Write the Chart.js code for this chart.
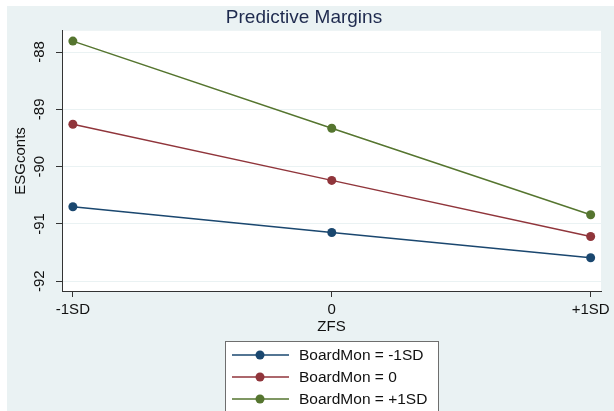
<!DOCTYPE html>
<html>
<head>
<meta charset="utf-8">
<script src="https://cdn.jsdelivr.net/npm/chart.js@4"></script>
<style>
  html, body { margin: 0; padding: 0; background: #fff; }
  #chart { display: block; }
</style>
</head>
<body>
<canvas id="chart" width="614" height="411"></canvas>
<script>
// values
const categories = ['-1SD', '0', '+1SD'];
const seriesLabels = ['BoardMon = -1SD', 'BoardMon = 0', 'BoardMon = +1SD'];
const lowBoard = [-90.70, -91.15, -91.59];
const midBoard = [-89.26, -90.24, -91.22];
const highBoard = [-87.81, -89.33, -90.84];
const yTicks = [-92, -91, -90, -89, -88];

const colors = ['#1a476f', '#90353b', '#55752f'];
const bgColor = '#eaf2f3';
const font = 'Arial, "Liberation Sans", sans-serif';

function toPoints(values) {
    return categories.map((c, i) => ({ x: i, y: values[i] }));
}

// outer stata-like background + white plot region
const backdrop = {
    id: 'backdrop',
    beforeDraw(chart) {
        const ctx = chart.ctx;
        const a = chart.chartArea;
        ctx.save();
        ctx.fillStyle = '#fff';
        ctx.fillRect(0, 0, chart.width, chart.height);
        ctx.fillStyle = bgColor;
        ctx.fillRect(7, 6, chart.width - 7, chart.height - 6);
        ctx.fillStyle = '#fff';
        ctx.fillRect(a.left, a.top, a.right - a.left, a.bottom - a.top);
        ctx.restore();
    }
};

// boxed legend under the axis title, one row per series
const boxLegend = {
    id: 'boxLegend',
    afterDraw(chart) {
        const ctx = chart.ctx;
        const left = 225, top = 341, w = 213;
        ctx.save();
        ctx.fillStyle = '#fff';
        ctx.fillRect(left, top, w, 90);
        ctx.strokeStyle = '#6e6e6e';
        ctx.lineWidth = 1;
        ctx.strokeRect(left + 0.5, top + 0.5, w, 90);
        chart.data.datasets.forEach((ds, i) => {
            const y = 355 + i * 22;
            ctx.strokeStyle = ds.borderColor;
            ctx.lineWidth = 1.5;
            ctx.beginPath();
            ctx.moveTo(232, y);
            ctx.lineTo(289, y);
            ctx.stroke();
            ctx.fillStyle = ds.backgroundColor;
            ctx.beginPath();
            ctx.arc(260, y, 4.5, 0, Math.PI * 2);
            ctx.fill();
            ctx.fillStyle = '#111';
            ctx.font = '15.5px ' + font;
            ctx.textBaseline = 'middle';
            ctx.textAlign = 'left';
            ctx.fillText(ds.label, 299, y + 1);
        });
        ctx.restore();
    }
};

const datasets = [lowBoard, midBoard, highBoard].map((vals, i) => ({
    label: seriesLabels[i],
    data: toPoints(vals),
    borderColor: colors[i],
    backgroundColor: colors[i],
    borderWidth: 1.5,
    pointRadius: 4.5,
    pointHoverRadius: 4.5,
    pointBorderWidth: 0,
    tension: 0
}));

new Chart(document.getElementById('chart').getContext('2d'), {
    type: 'line',
    data: { datasets: datasets },
    plugins: [backdrop, boxLegend],
    options: {
        responsive: false,
        animation: false,
        layout: { padding: { left: 7, right: 13, top: 0, bottom: 75 } },
        plugins: {
            legend: { display: false },
            tooltip: { enabled: false },
            title: {
                display: true,
                text: 'Predictive Margins',
                color: '#1e2a4e',
                font: { family: font, size: 19, weight: 'normal' },
                padding: { top: 6, bottom: 2 }
            }
        },
        scales: {
            x: {
                type: 'linear',
                min: -0.042,
                max: 2.04,
                afterBuildTicks: s => { s.ticks = categories.map((c, i) => ({ value: i })); },
                afterFit: s => { s.height = 45; },
                ticks: {
                    callback: v => categories[v],
                    color: '#111',
                    font: { family: font, size: 15 },
                    padding: 4,
                    maxRotation: 0,
                    autoSkip: false
                },
                grid: { drawOnChartArea: false, tickLength: 6, tickColor: '#333' },
                border: { color: '#333', width: 1 },
                title: {
                    display: true,
                    text: 'ZFS',
                    color: '#111',
                    font: { family: font, size: 15 },
                    padding: { top: 0, bottom: 0 }
                }
            },
            y: {
                min: -92.17,
                max: -87.63,
                afterBuildTicks: s => { s.ticks = yTicks.map(v => ({ value: v })); },
                afterFit: s => { s.width = 55; },
                ticks: {
                    callback: v => String(v),
                    color: '#111',
                    font: { family: font, size: 15 },
                    minRotation: 90,
                    maxRotation: 90,
                    crossAlign: 'center',
                    padding: 5
                },
                grid: { color: bgColor, lineWidth: 1, tickLength: 6, tickColor: '#333' },
                border: { color: '#333', width: 1 },
                title: {
                    display: true,
                    text: 'ESGconts',
                    color: '#111',
                    font: { family: font, size: 15 },
                    padding: { top: 5, bottom: 0 }
                }
            }
        }
    }
});
</script>
</body>
</html>
